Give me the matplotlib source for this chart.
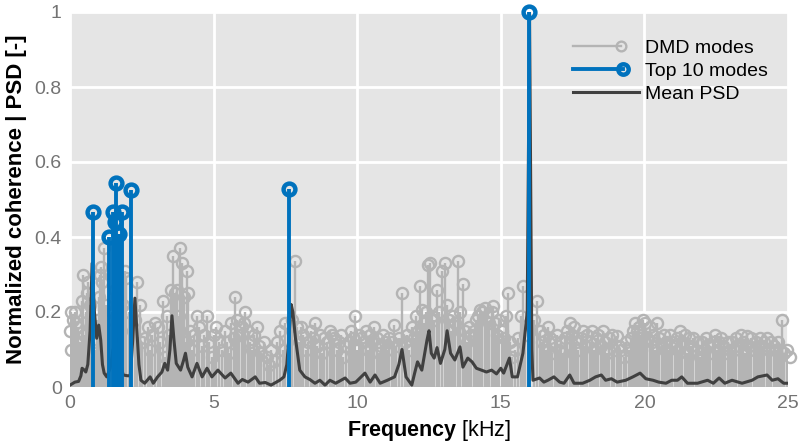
import matplotlib
matplotlib.use("Agg")
import matplotlib.pyplot as plt
from matplotlib.lines import Line2D
from matplotlib.legend_handler import HandlerBase

plt.rcParams['font.family'] = ['Liberation Sans', 'DejaVu Sans']
plt.rcParams['mathtext.fontset'] = 'custom'
plt.rcParams['mathtext.bf'] = 'Liberation Sans:bold'
plt.rcParams['mathtext.rm'] = 'Liberation Sans'

# DMD mode frequencies [kHz] and normalized coherence
dmd_freq = [
    0.0, 0.02, 0.04, 0.12, 0.17, 0.22, 0.28, 0.35, 0.42, 0.45, 0.5, 0.55, 0.58, 0.62, 0.68, 0.72, 0.85, 0.9, 0.95,
    1.0, 1.05, 1.08, 1.12, 1.19, 1.25, 1.3, 1.45, 1.55, 1.65, 1.78, 1.85, 1.92, 1.95,
    2.05, 2.25, 2.35, 2.42, 2.5, 2.6, 2.7, 2.78, 2.85, 2.96,
    3.05, 3.12, 3.23, 3.3, 3.38, 3.45, 3.52, 3.58, 3.65, 3.72, 3.8, 3.83, 3.9, 3.96,
    4.03, 4.07, 4.1, 4.18, 4.25, 4.32, 4.42, 4.5, 4.58, 4.65, 4.77, 4.85, 4.93,
    5.02, 5.1, 5.2, 5.3, 5.38, 5.47, 5.55, 5.62, 5.7, 5.75, 5.82, 5.9, 5.98,
    6.05, 6.1, 6.2, 6.28, 6.35, 6.42, 6.5, 6.58, 6.65, 6.75, 6.85, 6.92,
    7.0, 7.1, 7.2, 7.3, 7.4, 7.5, 7.72, 7.83, 7.9, 7.97,
    8.05, 8.12, 8.2, 8.3, 8.38, 8.45, 8.53, 8.6, 8.7, 8.78, 8.85, 8.95,
    9.05, 9.12, 9.2, 9.28, 9.35, 9.45, 9.52, 9.6, 9.7, 9.8, 9.86, 9.92, 9.98,
    10.05, 10.12, 10.2, 10.3, 10.38, 10.45, 10.52, 10.6, 10.68, 10.75, 10.82, 10.9, 10.97,
    11.05, 11.12, 11.2, 11.28, 11.35, 11.45, 11.57, 11.65, 11.72, 11.8, 11.9, 11.97,
    12.05, 12.12, 12.18, 12.25, 12.32, 12.4, 12.47, 12.53, 12.6, 12.68, 12.78, 12.85, 12.95,
    13.05, 13.12, 13.2, 13.28, 13.35, 13.42, 13.5, 13.58, 13.68, 13.75, 13.83, 13.9, 13.97,
    14.05, 14.12, 14.2, 14.28, 14.35, 14.45, 14.52, 14.6, 14.68, 14.73, 14.8, 14.88, 14.95,
    15.05, 15.12, 15.18, 15.25, 15.32, 15.4, 15.5, 15.6, 15.7, 15.77, 15.85,
    16.15, 16.26, 16.35, 16.45, 16.52, 16.58, 16.64, 16.72, 16.8, 16.88, 16.95,
    17.02, 17.1, 17.18, 17.25, 17.32, 17.4, 17.48, 17.55, 17.62, 17.7, 17.78, 17.85, 17.93,
    18.0, 18.1, 18.18, 18.25, 18.32, 18.4, 18.48, 18.55, 18.62, 18.7, 18.78, 18.88, 18.95,
    19.05, 19.12, 19.2, 19.28, 19.35, 19.45, 19.52, 19.6, 19.68, 19.75, 19.82, 19.88, 19.95,
    20.02, 20.1, 20.18, 20.25, 20.3, 20.38, 20.44, 20.52, 20.6, 20.68, 20.75, 20.82, 20.9, 20.97,
    21.05, 21.12, 21.18, 21.24, 21.32, 21.4, 21.48, 21.55, 21.62, 21.7, 21.78, 21.85, 21.92,
    22.0, 22.08, 22.15, 22.22, 22.3, 22.38, 22.45, 22.52, 22.6, 22.68, 22.75, 22.82, 22.9, 22.97,
    23.05, 23.12, 23.2, 23.28, 23.35, 23.42, 23.5, 23.58, 23.65, 23.72, 23.8, 23.88, 23.95,
    24.02, 24.1, 24.18, 24.27, 24.35, 24.42, 24.5, 24.58, 24.65, 24.72, 24.8, 24.87, 24.95, 25.08,
]
dmd_coh = [
    0.15, 0.1, 0.2, 0.18, 0.2, 0.17, 0.16, 0.12, 0.23, 0.30, 0.14, 0.2, 0.25, 0.28, 0.22, 0.08, 0.12, 0.1, 0.18,
    0.24, 0.30, 0.32, 0.28, 0.37, 0.22, 0.18, 0.2, 0.26, 0.24, 0.15, 0.22, 0.31, 0.29,
    0.2, 0.18, 0.28, 0.22, 0.12, 0.13, 0.16, 0.1, 0.14, 0.17,
    0.16, 0.12, 0.23, 0.08, 0.19, 0.14, 0.26, 0.35, 0.25, 0.26, 0.19, 0.37, 0.33, 0.24,
    0.12, 0.31, 0.25, 0.15, 0.1, 0.14, 0.19, 0.16, 0.11, 0.14, 0.19, 0.12, 0.08,
    0.14, 0.16, 0.12, 0.1, 0.15, 0.12, 0.09, 0.17, 0.13, 0.24, 0.18, 0.14, 0.16,
    0.17, 0.2, 0.15, 0.12, 0.1, 0.14, 0.16, 0.11, 0.09, 0.12, 0.08, 0.06,
    0.1, 0.07, 0.12, 0.15, 0.1, 0.17, 0.18, 0.335, 0.16, 0.12,
    0.16, 0.14, 0.1, 0.12, 0.15, 0.13, 0.17, 0.11, 0.14, 0.09, 0.13, 0.12,
    0.15, 0.14, 0.13, 0.1, 0.12, 0.14, 0.08, 0.11, 0.12, 0.15, 0.13, 0.19, 0.1,
    0.14, 0.13, 0.12, 0.15, 0.1, 0.14, 0.12, 0.16, 0.13, 0.09, 0.11, 0.14, 0.12,
    0.1, 0.13, 0.12, 0.165, 0.11, 0.13, 0.25, 0.12, 0.14, 0.1, 0.16, 0.13,
    0.19, 0.15, 0.27, 0.205, 0.17, 0.2, 0.325, 0.33, 0.19, 0.18, 0.26, 0.2, 0.31,
    0.33, 0.22, 0.18, 0.15, 0.19, 0.17, 0.335, 0.2, 0.275, 0.15, 0.12, 0.16, 0.14,
    0.15, 0.18, 0.19, 0.205, 0.2, 0.21, 0.19, 0.17, 0.2, 0.215, 0.17, 0.14, 0.18,
    0.15, 0.13, 0.19, 0.25, 0.12, 0.08, 0.1, 0.13, 0.19, 0.27, 0.14,
    0.18, 0.23, 0.15, 0.12, 0.14, 0.1, 0.16, 0.13, 0.09, 0.12, 0.14,
    0.1, 0.12, 0.09, 0.13, 0.15, 0.17, 0.14, 0.16, 0.12, 0.1, 0.13, 0.15, 0.11,
    0.14, 0.12, 0.15, 0.1, 0.13, 0.14, 0.11, 0.15, 0.12, 0.09, 0.13, 0.14, 0.1,
    0.135, 0.11, 0.1, 0.08, 0.12, 0.1, 0.13, 0.15, 0.17, 0.15, 0.16, 0.14, 0.18,
    0.17, 0.13, 0.16, 0.12, 0.14, 0.1, 0.17, 0.13, 0.11, 0.14, 0.12, 0.1, 0.14, 0.12,
    0.11, 0.13, 0.1, 0.15, 0.12, 0.14, 0.09, 0.13, 0.11, 0.13, 0.1, 0.12, 0.08,
    0.12, 0.1, 0.13, 0.11, 0.09, 0.12, 0.14, 0.1, 0.12, 0.13, 0.11, 0.09, 0.12, 0.1,
    0.12, 0.1, 0.13, 0.11, 0.14, 0.12, 0.09, 0.135, 0.11, 0.13, 0.1, 0.12, 0.11,
    0.13, 0.11, 0.12, 0.13, 0.1, 0.12, 0.11, 0.1, 0.12, 0.1, 0.18, 0.09, 0.1, 0.08,
]

# Ten modes with the highest coherence
top_freq = [0.79, 1.37, 1.51, 1.56, 1.60, 1.72, 1.80, 2.12, 7.62, 15.99]
top_coh = [0.467, 0.40, 0.467, 0.44, 0.543, 0.408, 0.467, 0.525, 0.527, 1.0]

# Spatially averaged power spectral density (normalized)
psd_freq = [
    0.0, 0.17, 0.3, 0.38, 0.42, 0.5, 0.55, 0.62, 0.7, 0.77, 0.85, 0.93, 1.0, 1.07, 1.13, 1.19, 1.28,
    1.4, 1.5, 1.6, 1.7, 1.8, 1.85, 2.0, 2.1, 2.18, 2.26, 2.33, 2.4, 2.47, 2.6, 2.79, 2.9, 3.05,
    3.2, 3.3, 3.4, 3.48, 3.55, 3.62, 3.7, 3.85, 3.95, 4.02, 4.1, 4.25, 4.42, 4.6, 4.77, 4.94,
    5.15, 5.4, 5.6, 5.85, 6.0, 6.2, 6.45, 6.6, 6.8, 7.0, 7.3, 7.45, 7.55, 7.62, 7.7, 7.76, 7.85,
    8.0, 8.18, 8.35, 8.53, 8.7, 8.88, 9.05, 9.25, 9.58, 9.75, 9.95, 10.27, 10.45, 10.62, 10.8,
    11.05, 11.3, 11.45, 11.56, 11.7, 11.9, 12.0, 12.1, 12.25, 12.43, 12.5, 12.58, 12.68, 12.78,
    12.9, 13.05, 13.13, 13.25, 13.4, 13.58, 13.68, 13.85, 14.0, 14.15, 14.33, 14.5, 14.68, 14.85,
    15.0, 15.1, 15.3, 15.4, 15.58, 15.77, 15.92, 16.0, 16.08, 16.12, 16.35, 16.5, 16.64, 16.85,
    17.05, 17.2, 17.4, 17.55, 17.85, 18.1, 18.3, 18.5, 18.65, 18.85, 19.05, 19.35, 19.6, 19.85,
    20.05, 20.3, 20.5, 20.75, 20.95, 21.15, 21.3, 21.5, 21.85, 22.2, 22.4, 22.6, 22.8, 23.05,
    23.4, 23.75, 23.95, 24.27, 24.45, 24.65, 24.85, 25.0,
]
psd_val = [
    0.005, 0.013, 0.015, 0.03, 0.05, 0.045, 0.04, 0.06, 0.15, 0.33, 0.2, 0.13, 0.165, 0.125, 0.06, 0.037, 0.027,
    0.05, 0.1, 0.12, 0.13, 0.05, 0.032, 0.03, 0.03, 0.12, 0.237, 0.15, 0.06, 0.018, 0.01, 0.027, 0.01, 0.027,
    0.04, 0.063, 0.045, 0.1, 0.19, 0.125, 0.063, 0.045, 0.07, 0.09, 0.053, 0.027, 0.063, 0.027, 0.05, 0.027,
    0.045, 0.024, 0.037, 0.01, 0.02, 0.013, 0.027, 0.01, 0.012, 0.005, 0.018, 0.027, 0.06, 0.13, 0.22, 0.2, 0.13,
    0.045, 0.027, 0.02, 0.01, 0.018, 0.005, 0.018, 0.01, 0.024, 0.01, 0.013, 0.037, 0.013, 0.032, 0.01,
    0.018, 0.027, 0.06, 0.1, 0.027, 0.005, 0.037, 0.067, 0.045, 0.125, 0.15, 0.09, 0.077, 0.105,
    0.063, 0.1, 0.15, 0.09, 0.072, 0.107, 0.053, 0.077, 0.067, 0.05, 0.045, 0.04, 0.045, 0.035,
    0.05, 0.037, 0.077, 0.027, 0.027, 0.09, 0.2, 1.0, 0.1, 0.018, 0.024, 0.013, 0.018, 0.027,
    0.013, 0.01, 0.032, 0.01, 0.01, 0.018, 0.027, 0.032, 0.018, 0.022, 0.013, 0.018, 0.027, 0.037,
    0.022, 0.018, 0.013, 0.01, 0.018, 0.018, 0.027, 0.01, 0.01, 0.018, 0.01, 0.024, 0.01, 0.018,
    0.01, 0.018, 0.027, 0.032, 0.018, 0.022, 0.01, 0.01,
]

x_ticks = [0, 5, 10, 15, 20, 25]
y_ticks = [0, 0.2, 0.4, 0.6, 0.8, 1.0]
y_tick_labels = ['0', '0.2', '0.4', '0.6', '0.8', '1']

GRAY = '#b4b4b4'
BLUE = '#0072bd'
DARK = '#404040'

fig = plt.figure(figsize=(8.02, 4.45), dpi=100)
ax = fig.add_axes([70 / 802, 1 - 387 / 445, 718 / 802, 375 / 445])
ax.set_facecolor('#e5e5e5')
for s in ax.spines.values():
    s.set_visible(False)
ax.grid(True, color='white', lw=2)
ax.set_axisbelow(True)

# all DMD modes
m, st, bl = ax.stem(dmd_freq, dmd_coh, linefmt='-', markerfmt='o', basefmt='-')
st.set_color(GRAY)
st.set_linewidth(1.7)
m.set_markerfacecolor('none')
m.set_markeredgecolor(GRAY)
m.set_markersize(8)
m.set_markeredgewidth(1.7)
m.set_clip_on(False)
bl.set_color(DARK)
bl.set_linewidth(1.0)
bl.set_zorder(1.5)

# mean PSD
ax.plot(psd_freq, psd_val, color=DARK, lw=2.2, zorder=3)

# top 10 modes
m2, st2, bl2 = ax.stem(top_freq, top_coh, linefmt='-', markerfmt='o', basefmt=' ')
st2.set_color(BLUE)
st2.set_linewidth(2.8)
st2.set_zorder(4)
m2.set_markerfacecolor('none')
m2.set_markeredgecolor(BLUE)
m2.set_markersize(8.5)
m2.set_markeredgewidth(3.2)
m2.set_clip_on(False)
m2.set_zorder(5)

ax.set_xlim(0, 25)
ax.set_ylim(0, 1)
ax.set_xticks(x_ticks)
ax.set_yticks(y_ticks)
ax.set_yticklabels(y_tick_labels)
ax.tick_params(length=0, labelsize=14, labelcolor='#737373', pad=6)

ax.set_xlabel(r'$\bf{Frequency}$ [kHz]', fontsize=15.5, labelpad=4)
ax.set_ylabel('Normalized coherence | PSD [-]', fontsize=16, fontweight='bold', labelpad=5)


class EndMarkerHandler(HandlerBase):
    def __init__(self, color, lw, marker, frac, mew=1.5, ms=7.0):
        super().__init__()
        self.color, self.lw, self.marker = color, lw, marker
        self.frac, self.mew, self.ms = frac, mew, ms

    def create_artists(self, legend, orig_handle, xdescent, ydescent,
                       width, height, fontsize, trans):
        y = height / 2 - ydescent
        x0 = -xdescent
        x1 = -xdescent + width * self.frac
        arts = [Line2D([x0, x1], [y, y], color=self.color, lw=self.lw, transform=trans)]
        if self.marker:
            arts.append(Line2D([x1], [y], marker='o', ms=self.ms, mfc='none',
                               mec=self.color, mew=self.mew, transform=trans))
        return arts


h1 = Line2D([], [])
h2 = Line2D([], [])
h3 = Line2D([], [])
leg = ax.legend([h1, h2, h3], ['DMD modes', 'Top 10 modes', 'Mean PSD'],
                handler_map={h1: EndMarkerHandler(GRAY, 1.7, True, 0.72, 1.7, 7.0),
                             h2: EndMarkerHandler(BLUE, 2.8, True, 0.76, 3.2, 7.5),
                             h3: EndMarkerHandler(DARK, 2.2, False, 1.0)},
                loc='upper left', bbox_to_anchor=(573 / 802, 1 - 39 / 445),
                bbox_transform=fig.transFigure, frameon=False, fontsize=14,
                handlelength=3.4, handletextpad=0.3, labelspacing=0.28,
                borderpad=0, borderaxespad=0)

fig.savefig('out.png', dpi=100)
